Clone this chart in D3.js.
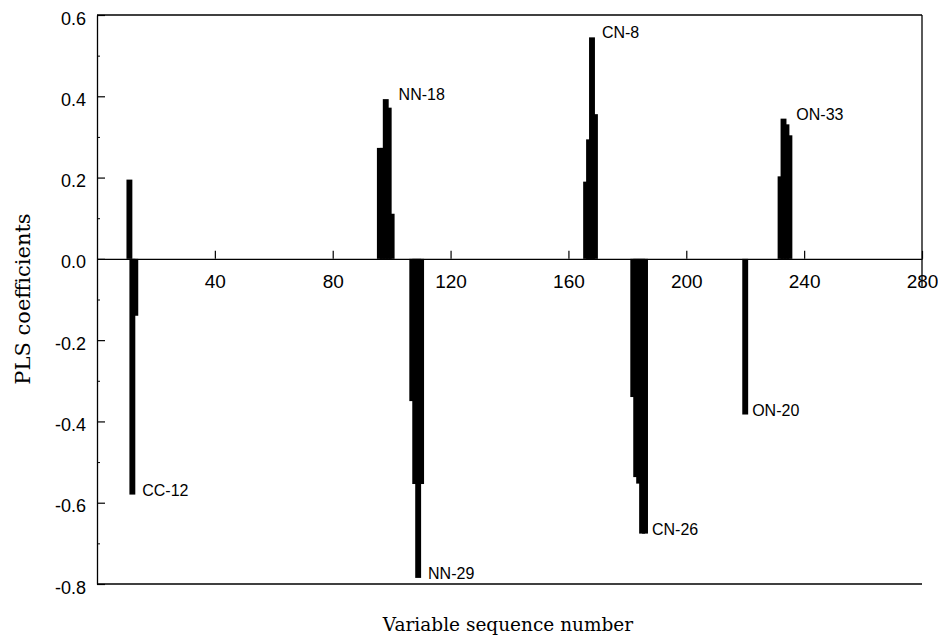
<!DOCTYPE html>
<html>
<head>
<meta charset="utf-8">
<script src="https://cdn.jsdelivr.net/npm/d3@7"></script>
<style>
  body { margin: 0; background: #fff; }
  svg { display: block; }
</style>
</head>
<body>
<div id="main"></div>
<script>
// variable sequence numbers with a non-zero PLS coefficient
const variables = [
  11, 12, 13,
  96, 97, 98, 99, 100,
  107, 108, 109, 110,
  166, 167, 168, 169,
  182, 183, 184, 185, 186,
  220,
  232, 233, 234, 235
];
const coefficients = [
  0.195, -0.58, -0.14,
  0.273, 0.273, 0.393, 0.372, 0.111,
  -0.35, -0.554, -0.785, -0.554,
  0.19, 0.294, 0.545, 0.356,
  -0.34, -0.537, -0.553, -0.676, -0.676,
  -0.383,
  0.203, 0.345, 0.331, 0.304
];

// annotated peaks
const peakNames = ["CC-12", "NN-18", "NN-29", "CN-8", "CN-26", "ON-20", "ON-33"];
const peakVariables = [12, 98, 109, 168, 185, 220, 233];

const xTicks = [40, 80, 120, 160, 200, 240, 280];
const yTicks = [-0.8, -0.6, -0.4, -0.2, 0.0, 0.2, 0.4, 0.6];
const yMinorTicks = [-0.7, -0.5, -0.3, -0.1, 0.1, 0.3, 0.5];

const width = 938;
const height = 637;
const margin = { top: 15, right: 16, bottom: 53, left: 97 };

const svg = d3.select("#main").append("svg").attr("width", width).attr("height", height);

const xScale = d3.scaleLinear().domain([0, 280]).range([margin.left, width - margin.right]);
const yScale = d3.scaleLinear().domain([-0.8, 0.6]).range([height - margin.bottom, margin.top]);

const data = variables.map((v, i) => ({ v: v, c: coefficients[i] }));
// each bar is drawn two variables wide, so neighbours overlap
const barHalf = 1;

// frame: top, bottom, and the short right edge
svg.append("line")
  .attr("x1", xScale(0)).attr("x2", xScale(280))
  .attr("y1", yScale(0.6)).attr("y2", yScale(0.6))
  .attr("stroke", "#000").attr("stroke-width", 1.3);
svg.append("line")
  .attr("x1", xScale(0)).attr("x2", xScale(280))
  .attr("y1", yScale(-0.8)).attr("y2", yScale(-0.8))
  .attr("stroke", "#000").attr("stroke-width", 1.3);
svg.append("line")
  .attr("x1", xScale(280)).attr("x2", xScale(280))
  .attr("y1", yScale(0.6)).attr("y2", yScale(0) + 28)
  .attr("stroke", "#000").attr("stroke-width", 1.3);

// bars
svg.append("g")
  .selectAll("rect")
  .data(data)
  .enter()
  .append("rect")
  .attr("x", (d) => xScale(d.v - barHalf))
  .attr("width", (d) => xScale(d.v + barHalf) - xScale(d.v - barHalf))
  .attr("y", (d) => yScale(Math.max(0, d.c)))
  .attr("height", (d) => Math.abs(yScale(d.c) - yScale(0)))
  .attr("fill", "#000");

const tickFont = "'Liberation Sans', Arial, sans-serif";

// y axis (ticks inside)
const yAxis = d3.axisLeft(yScale)
  .tickValues(yTicks)
  .tickFormat((d) => d.toFixed(1))
  .tickSizeInner(-8)
  .tickSizeOuter(0)
  .tickPadding(11);

const gy = svg.append("g")
  .attr("transform", `translate(${margin.left}, 0)`)
  .call(yAxis);
gy.select(".domain").attr("stroke-width", 1.3);
gy.selectAll(".tick line").attr("stroke-width", 1.2);
gy.selectAll("text")
  .style("font-family", tickFont)
  .style("font-size", "18px")
  .attr("dy", "0.5em")
  .attr("fill", "#000");

svg.append("g")
  .attr("transform", `translate(${margin.left}, 0)`)
  .call(d3.axisLeft(yScale).tickValues(yMinorTicks).tickFormat("").tickSizeInner(-3).tickSizeOuter(0))
  .select(".domain").remove();

// x axis sits on the zero line, ticks pointing up
const xAxis = d3.axisBottom(xScale)
  .tickValues(xTicks)
  .tickFormat(d3.format("d"))
  .tickSizeInner(-8)
  .tickSizeOuter(0)
  .tickPadding(16);

const gx = svg.append("g")
  .attr("transform", `translate(0, ${yScale(0)})`)
  .call(xAxis);
gx.select(".domain").attr("stroke-width", 1.3);
gx.selectAll(".tick line").attr("stroke-width", 1.2);
gx.selectAll("text")
  .style("font-family", tickFont)
  .style("font-size", "19px")
  .attr("fill", "#000");

// peak labels, placed right of the run of bars that holds the peak
peakNames.forEach((name, i) => {
  const pv = peakVariables[i];
  const pc = coefficients[variables.indexOf(pv)];
  let end = pv;
  while (true) {
    const k = variables.indexOf(end + 1);
    if (k < 0 || Math.sign(coefficients[k]) !== Math.sign(pc) || Math.abs(coefficients[k]) < 0.05) break;
    end++;
  }
  svg.append("text")
    .attr("x", xScale(end + barHalf) + 4)
    .attr("y", yScale(pc) - 4.5)
    .attr("dominant-baseline", "central")
    .style("font-family", tickFont)
    .style("font-size", "16px")
    .text(name);
});

// axis titles
svg.append("text")
  .attr("x", 508)
  .attr("y", 631)
  .attr("text-anchor", "middle")
  .style("font-family", "'DejaVu Serif', serif")
  .style("font-size", "18.5px")
  .text("Variable sequence number");

svg.append("text")
  .attr("transform", "translate(30, 299) rotate(-90)")
  .attr("text-anchor", "middle")
  .style("font-family", "'DejaVu Serif', serif")
  .style("font-size", "21px")
  .text("PLS coefficients");
</script>
</body>
</html>
